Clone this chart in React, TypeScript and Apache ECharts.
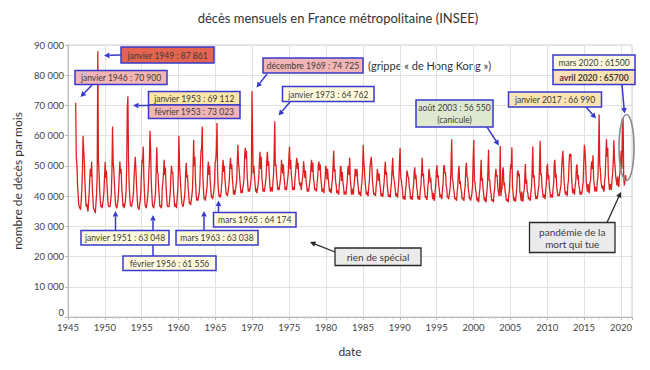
import React, { useEffect, useRef } from "react";
import * as echarts from "echarts";

// Monthly deaths in metropolitan France, in thousands (Jan..Dec), first year = 1946
const firstYear = 1946;
const deaths1940s: number[][] = [
  [70.9, 53.0, 50.5, 44.0, 40.5, 37.0, 36.5, 36.0, 35.5, 38.5, 42.0, 48.5],
  [60.0, 55.0, 52.0, 45.0, 40.0, 36.5, 37.5, 36.0, 34.9, 38.0, 41.0, 46.0],
  [49.0, 46.5, 51.4, 43.0, 39.5, 36.0, 35.5, 35.0, 34.4, 37.5, 40.5, 47.0],
  [87.9, 52.0, 48.0, 42.0, 39.0, 36.5, 37.0, 36.0, 36.0, 39.0, 41.5, 46.5],
];
const deaths1950s: number[][] = [
  [51.4, 46.0, 48.5, 43.5, 40.0, 37.0, 36.5, 36.5, 36.5, 38.5, 41.0, 48.0],
  [63.0, 51.0, 49.0, 44.5, 40.5, 37.0, 37.0, 36.0, 36.0, 39.0, 42.0, 47.5],
  [51.4, 47.5, 49.0, 42.5, 40.0, 36.5, 37.5, 36.0, 36.0, 38.5, 41.5, 49.0],
  [69.1, 73.0, 52.0, 44.0, 40.0, 37.0, 37.0, 36.5, 36.5, 39.0, 41.0, 46.0],
  [50.0, 53.0, 49.0, 44.0, 40.0, 36.5, 36.5, 35.5, 35.5, 38.5, 41.0, 47.0],
  [52.0, 51.0, 56.4, 46.0, 41.0, 37.0, 37.0, 36.0, 36.0, 39.5, 42.0, 47.5],
  [52.0, 61.6, 55.0, 45.0, 40.5, 37.0, 36.5, 36.0, 36.0, 39.0, 41.5, 48.0],
  [56.2, 48.0, 47.5, 43.0, 40.0, 36.5, 37.0, 36.0, 36.5, 43.0, 44.5, 48.0],
  [52.0, 47.0, 49.5, 44.0, 40.0, 37.0, 36.5, 36.5, 36.5, 39.0, 41.5, 47.0],
  [50.0, 47.7, 48.0, 43.0, 40.0, 36.5, 37.5, 37.0, 36.0, 39.0, 41.5, 46.5],
];
const deaths1960s: number[][] = [
  [60.0, 50.0, 47.0, 43.0, 40.0, 37.5, 37.0, 36.5, 36.5, 39.5, 42.0, 48.0],
  [51.0, 46.0, 47.0, 43.0, 40.5, 37.5, 38.0, 37.0, 37.0, 40.0, 42.0, 48.0],
  [58.6, 50.0, 53.0, 45.0, 41.0, 38.5, 39.4, 38.5, 38.5, 41.0, 43.5, 50.0],
  [55.0, 56.0, 63.0, 47.0, 42.0, 39.0, 39.5, 38.5, 38.5, 41.5, 43.5, 49.0],
  [51.4, 47.0, 50.0, 45.0, 42.0, 39.5, 40.0, 39.0, 39.0, 42.0, 44.5, 51.0],
  [52.0, 55.0, 64.2, 48.0, 43.0, 40.0, 40.5, 39.5, 40.0, 42.5, 44.5, 49.5],
  [52.0, 48.0, 50.0, 45.5, 43.0, 40.5, 41.0, 40.0, 40.0, 43.0, 45.0, 50.0],
  [52.7, 49.0, 50.5, 46.0, 43.5, 40.5, 42.0, 40.5, 40.5, 43.5, 45.0, 51.0],
  [57.0, 51.0, 49.0, 46.0, 43.5, 41.0, 42.0, 41.0, 41.0, 44.0, 46.0, 53.0],
  [56.0, 52.5, 55.0, 47.5, 44.0, 41.5, 42.5, 41.5, 41.5, 44.5, 47.0, 74.7],
];
const deaths1970s: number[][] = [
  [58.0, 47.5, 50.0, 46.5, 44.0, 41.5, 42.5, 41.0, 41.0, 44.0, 46.0, 51.0],
  [54.7, 49.0, 53.0, 46.5, 44.0, 41.5, 42.5, 41.5, 41.5, 44.5, 46.5, 51.5],
  [54.7, 50.0, 51.5, 47.0, 44.0, 41.5, 43.0, 42.0, 41.5, 44.5, 47.0, 53.0],
  [64.8, 50.0, 50.5, 46.5, 44.5, 42.0, 43.0, 42.0, 42.0, 45.0, 47.0, 52.0],
  [52.0, 47.5, 50.5, 46.5, 44.5, 42.0, 43.0, 42.0, 42.0, 45.5, 47.5, 52.5],
  [56.4, 49.0, 52.0, 47.0, 45.0, 42.0, 43.0, 42.5, 42.0, 46.0, 48.0, 51.0],
  [52.7, 49.0, 51.0, 47.0, 44.5, 43.5, 44.5, 42.0, 42.0, 45.5, 47.5, 51.5],
  [49.0, 46.0, 48.5, 45.0, 43.5, 41.5, 42.5, 41.5, 41.5, 44.5, 46.5, 50.0],
  [52.0, 48.0, 51.0, 46.0, 44.5, 42.0, 42.5, 42.0, 41.5, 44.5, 46.5, 50.5],
  [51.4, 48.5, 50.5, 46.0, 44.0, 41.5, 42.5, 41.5, 41.0, 44.0, 46.0, 50.0],
];
const deaths1980s: number[][] = [
  [49.0, 45.5, 49.0, 46.0, 44.0, 41.5, 42.5, 41.5, 41.0, 44.0, 46.0, 50.5],
  [55.0, 48.0, 49.0, 45.0, 43.5, 41.0, 42.0, 41.0, 40.5, 43.5, 45.5, 50.0],
  [49.5, 45.0, 48.0, 44.5, 43.0, 40.5, 41.5, 41.0, 40.5, 43.0, 45.0, 49.0],
  [50.0, 47.0, 52.7, 45.5, 43.5, 40.5, 42.5, 41.0, 40.5, 43.5, 45.5, 49.0],
  [49.0, 46.5, 49.0, 44.5, 43.0, 40.5, 41.5, 40.5, 40.0, 43.0, 45.0, 48.5],
  [57.0, 51.0, 49.0, 45.0, 43.0, 40.5, 41.5, 40.5, 40.0, 43.0, 45.0, 49.5],
  [49.5, 53.0, 50.0, 45.0, 43.0, 40.5, 41.0, 40.5, 40.0, 43.0, 45.0, 49.0],
  [49.0, 45.0, 47.5, 44.0, 42.5, 40.0, 41.0, 40.0, 39.8, 42.5, 44.5, 48.5],
  [51.4, 47.0, 48.0, 44.0, 42.0, 39.8, 40.5, 40.0, 39.5, 42.5, 44.5, 49.0],
  [52.7, 47.0, 47.0, 44.5, 42.5, 40.0, 41.0, 40.0, 39.5, 42.5, 45.0, 51.0],
];
const deaths1990s: number[][] = [
  [55.9, 46.0, 45.5, 43.5, 42.0, 39.0, 40.0, 39.5, 38.7, 42.0, 44.0, 48.5],
  [47.7, 46.5, 46.0, 43.0, 42.0, 39.0, 40.0, 39.5, 38.8, 42.0, 44.0, 48.0],
  [49.5, 45.5, 47.0, 43.0, 42.0, 39.0, 40.0, 39.0, 38.8, 42.0, 43.5, 48.0],
  [52.7, 46.5, 47.5, 43.5, 42.0, 39.5, 40.0, 39.0, 38.8, 42.5, 44.5, 49.0],
  [47.7, 44.5, 46.0, 42.5, 41.5, 39.0, 41.0, 39.0, 38.5, 41.5, 43.5, 48.0],
  [50.3, 46.0, 47.0, 43.5, 42.0, 39.5, 40.5, 40.0, 39.0, 42.0, 44.0, 49.5],
  [50.3, 47.5, 48.0, 43.5, 42.5, 39.5, 40.0, 39.0, 39.0, 42.0, 44.0, 50.0],
  [58.8, 46.0, 45.0, 42.5, 41.5, 39.0, 39.5, 39.0, 38.5, 41.5, 43.5, 48.0],
  [50.0, 44.0, 45.0, 42.5, 41.5, 39.0, 39.5, 39.0, 38.5, 41.5, 43.5, 49.0],
  [51.0, 46.5, 46.0, 42.5, 41.0, 39.0, 39.5, 38.5, 38.5, 41.0, 43.5, 52.5],
];
const deaths2000s: number[][] = [
  [58.6, 45.0, 44.5, 42.0, 41.0, 38.5, 39.5, 38.5, 38.0, 41.0, 42.5, 47.0],
  [52.0, 45.0, 46.0, 42.5, 41.0, 38.5, 39.5, 38.5, 38.0, 41.0, 43.0, 48.5],
  [55.3, 45.0, 45.5, 42.0, 41.0, 38.5, 39.0, 38.5, 38.0, 41.0, 42.5, 47.0],
  [49.0, 46.5, 47.0, 43.0, 41.5, 40.0, 42.5, 56.55, 40.0, 42.0, 42.5, 48.5],
  [49.5, 43.5, 44.5, 41.5, 40.5, 38.5, 39.0, 38.5, 38.0, 40.5, 42.0, 47.0],
  [50.5, 49.0, 56.2, 43.0, 41.0, 38.5, 39.5, 38.5, 38.2, 40.5, 42.5, 48.0],
  [48.5, 46.5, 47.5, 41.5, 40.5, 38.5, 41.5, 38.5, 38.2, 41.0, 42.0, 46.0],
  [50.6, 44.0, 45.5, 41.5, 41.0, 39.0, 39.5, 39.0, 38.5, 41.5, 43.0, 48.5],
  [56.4, 46.0, 47.0, 43.5, 41.0, 39.0, 40.0, 39.0, 39.0, 42.0, 43.5, 50.0],
  [58.3, 47.0, 47.5, 43.0, 41.5, 39.5, 40.5, 40.0, 39.0, 42.0, 44.0, 49.5],
];
const deaths2010s: number[][] = [
  [50.7, 45.5, 47.0, 43.0, 41.5, 39.5, 40.5, 40.0, 39.5, 42.5, 44.0, 51.0],
  [52.0, 46.0, 47.5, 43.0, 41.5, 40.0, 40.5, 40.0, 40.0, 42.5, 44.0, 49.0],
  [52.5, 55.0, 50.0, 45.0, 42.5, 40.5, 41.5, 41.0, 40.0, 43.5, 45.0, 50.5],
  [54.0, 53.0, 54.0, 47.0, 43.5, 41.0, 42.5, 41.0, 40.5, 43.5, 45.0, 49.5],
  [50.5, 45.5, 47.0, 43.5, 42.5, 40.5, 41.5, 40.5, 41.0, 43.0, 44.5, 51.0],
  [57.0, 55.0, 51.0, 45.0, 43.0, 41.5, 44.0, 41.5, 41.0, 44.5, 45.0, 49.5],
  [51.5, 49.0, 53.5, 46.0, 44.0, 41.5, 43.0, 43.0, 41.5, 45.0, 46.0, 54.0],
  [67.0, 50.5, 48.5, 45.0, 43.5, 42.5, 43.5, 42.0, 41.5, 45.0, 47.0, 53.5],
  [58.8, 53.0, 56.0, 47.0, 44.0, 42.0, 44.0, 43.5, 42.0, 45.5, 47.5, 51.5],
  [58.5, 52.0, 49.5, 46.5, 45.0, 43.5, 46.5, 44.0, 43.0, 46.5, 48.0, 52.0],
];
const deaths2020: number[] = [55.0, 49.0, 61.5, 65.7, 46.5, 43.5, 45.0, 47.0, 45.0];

const yTickValues = [0, 10000, 20000, 30000, 40000, 50000, 60000, 70000, 80000, 90000];
const xTickYears = [1945, 1950, 1955, 1960, 1965, 1970, 1975, 1980, 1985, 1990, 1995, 2000, 2005, 2010, 2015, 2020];

const titleText = "décès mensuels en France métropolitaine (INSEE)";
const yAxisTitle = "nombre de décès par mois";
const xAxisTitle = "date";

const FONT = "Lato, 'Noto Sans', sans-serif";
const BLUE = "#3838cc";
const DARK = "#2a2a2a";
const SQUEEZE = 0.9;

function arrow(x1: number, y1: number, x2: number, y2: number, color: string, lw = 1.5) {
  const dx = x2 - x1, dy = y2 - y1;
  const len = Math.hypot(dx, dy);
  const ux = dx / len, uy = dy / len;
  const hl = 5.5, hw = 2.8;
  const bx = x2 - ux * hl, by = y2 - uy * hl;
  return [
    { type: "line", z: 90, shape: { x1, y1, x2: bx, y2: by }, style: { stroke: color, lineWidth: lw } },
    {
      type: "polygon", z: 90,
      shape: { points: [[x2, y2], [bx - uy * hw, by + ux * hw], [bx + uy * hw, by - ux * hw]] },
      style: { fill: color },
    },
  ];
}

function label(x: number, y: number, text: string, bold = false, size = 9.5, squeeze = SQUEEZE) {
  return {
    type: "text", z: 101, x, y, scaleX: squeeze,
    style: {
      text, align: "center", verticalAlign: "middle", fill: "#3a3a3a",
      font: `${bold ? "bold " : ""}${size}px ${FONT}`, lineHeight: 12,
    },
  };
}

function box(x: number, y: number, w: number, h: number, fill: string, border: string, text: string,
  opts: { bold?: boolean; size?: number; lw?: number; squeeze?: number } = {}) {
  return [
    { type: "rect", z: 100, shape: { x, y, width: w, height: h }, style: { fill, stroke: border, lineWidth: opts.lw ?? 1.5 } },
    label(x + w / 2, y + h / 2, text, opts.bold, opts.size ?? 9.5, opts.squeeze ?? SQUEEZE),
  ];
}

function stackedBox(x: number, y: number, w: number, hTop: number, hBot: number,
  fillTop: string, fillBot: string, textTop: string, textBot: string, boldBot = false) {
  return [
    { type: "rect", z: 100, shape: { x, y, width: w, height: hTop }, style: { fill: fillTop, stroke: BLUE, lineWidth: 1.5 } },
    { type: "rect", z: 100, shape: { x, y: y + hTop, width: w, height: hBot }, style: { fill: fillBot, stroke: BLUE, lineWidth: 1.5 } },
    label(x + w / 2, y + hTop / 2, textTop),
    label(x + w / 2, y + hTop + hBot / 2, textBot, boldBot),
  ];
}

export default function App() {
  const ref = useRef<HTMLDivElement>(null);
  useEffect(() => {
    if (!ref.current) return;
    const chart = echarts.init(ref.current, undefined, { renderer: "svg" });

    const allYears = [...deaths1940s, ...deaths1950s, ...deaths1960s, ...deaths1970s,
      ...deaths1980s, ...deaths1990s, ...deaths2000s, ...deaths2010s, deaths2020];
    const seriesData: number[][] = [];
    allYears.forEach((months, i) => {
      months.forEach((v, m) => {
        seriesData.push([firstYear + i + (m + 0.5) / 12, v * 1000]);
      });
    });

    const graphics: any[] = [
      { type: "text", x: 338, y: 18, style: { text: titleText, align: "center", verticalAlign: "middle", fill: "#333", font: `13px ${FONT}` } },
      // janvier 1949
      ...box(121, 47, 93, 16, "#e5644f", BLUE, "janvier 1949 : 87 861"),
      ...arrow(121, 55, 104, 55.5, BLUE),
      // janvier 1946
      ...box(75, 70.5, 92, 14, "#f2b4b4", BLUE, "janvier 1946 : 70 900"),
      ...arrow(92, 85, 80.5, 97, BLUE),
      // 1953
      ...stackedBox(148.5, 91.5, 91.5, 13.5, 13.5, "#fbe6a8", "#f2b4b4", "janvier 1953 : 69 112", "février 1953 : 73 023"),
      ...arrow(148.5, 105.5, 133, 105.5, BLUE),
      // décembre 1969
      ...box(263, 58, 100, 15, "#f2b4b4", BLUE, "décembre 1969 : 74 725"),
      ...arrow(267, 74, 256.5, 87.5, BLUE),
      { type: "text", x: 368, y: 65.5, style: { text: "(grippe « de Hong Kong »)", align: "left", verticalAlign: "middle", fill: "#333", font: `11px ${FONT}` } },
      // janvier 1973
      ...box(282.5, 86.5, 91.5, 15, "#fffadd", BLUE, "janvier 1973 : 64 762"),
      ...arrow(290, 102, 278.5, 115.5, BLUE),
      // août 2003
      ...box(416, 100, 77, 27, "#dfe9d2", BLUE, "août 2003 : 56 550\n(canicule)"),
      ...arrow(487, 127, 499, 145.5, BLUE),
      // janvier 2017
      ...box(508.5, 92, 93, 15, "#fde2b4", BLUE, "janvier 2017 : 66 990"),
      ...arrow(586, 107, 596, 118.5, BLUE),
      // 2020
      ...stackedBox(553, 55, 82, 15, 14.5, "#fffadd", "#fde2b4", "mars 2020 : 61500", "avril 2020 : 65700", true),
      ...arrow(622, 84.5, 624.5, 113.5, BLUE),
      { type: "ellipse", z: 99, shape: { cx: 626.5, cy: 147.5, rx: 7.5, ry: 33 }, style: { fill: "none", stroke: "#8a8a8a", lineWidth: 1.6 } },
      // pandémie
      ...box(529.5, 222.5, 85.5, 30, "#ebebeb", DARK, "pandémie de la\nmort qui tue", { size: 10, lw: 1.3, squeeze: 1 }),
      ...arrow(607, 222.5, 621, 192, DARK, 1.3),
      // rien de spécial
      ...box(335, 248, 86, 17.5, "#ebebeb", DARK, "rien de spécial", { size: 10, lw: 1.3, squeeze: 1 }),
      ...arrow(335, 252, 310, 242, DARK, 1.3),
      // bottom annotations
      ...box(81, 230.5, 88, 14.5, "#fffadd", BLUE, "janvier 1951 : 63 048"),
      ...arrow(115.5, 230.5, 115.5, 211, BLUE),
      ...box(123, 256, 93, 14.5, "#fffadd", BLUE, "février 1956 : 61 556"),
      ...arrow(153, 256, 153, 215, BLUE),
      ...box(176, 230.5, 82, 14.5, "#fffadd", BLUE, "mars 1963 : 63 038"),
      ...arrow(204, 230.5, 204, 211, BLUE),
      ...box(213.5, 212.5, 82.5, 14.5, "#fffadd", BLUE, "mars 1965 : 64 174"),
      ...arrow(218.5, 212.5, 218.5, 200.5, BLUE),
    ];

    chart.setOption({
      animation: false,
      backgroundColor: "#ffffff",
      textStyle: { fontFamily: FONT },
      grid: { left: 68, right: 18, top: 45, bottom: 53, show: true, borderColor: "#cfcfcf", borderWidth: 1, containLabel: false },
      xAxis: {
        type: "value",
        min: xTickYears[0],
        max: 2021.5,
        interval: 5,
        name: xAxisTitle,
        nameLocation: "middle",
        nameGap: 28,
        nameTextStyle: { fontSize: 12, color: "#333", fontFamily: FONT },
        axisLine: { show: true, lineStyle: { color: "#b8b8b8" } },
        axisTick: { show: true, length: 3, lineStyle: { color: "#b8b8b8" } },
        minorTick: { show: true, splitNumber: 5, length: 2, lineStyle: { color: "#c8c8c8" } },
        axisLabel: {
          color: "#444", fontSize: 9.5, fontFamily: FONT, margin: 5,
          formatter: (v: number) => (xTickYears.includes(v) ? String(v) : ""),
        },
        splitLine: { show: true, lineStyle: { color: "#e2e2e2" } },
      },
      yAxis: {
        type: "value",
        min: yTickValues[0],
        max: yTickValues[yTickValues.length - 1],
        interval: 10000,
        name: yAxisTitle,
        nameLocation: "middle",
        nameGap: 45,
        nameRotate: 90,
        nameTextStyle: { fontSize: 12, color: "#333", fontFamily: FONT },
        axisLine: { show: true, lineStyle: { color: "#b8b8b8" } },
        axisTick: { show: true, length: 3, lineStyle: { color: "#b8b8b8" } },
        axisLabel: {
          color: "#444", fontSize: 9.5, fontFamily: FONT, margin: 4,
          formatter: (v: number) => (v === 0 ? "{z|0}" : `${Math.round(v / 1000)} 000`),
          rich: { z: { fontSize: 9.5, color: "#444", fontFamily: FONT, padding: [0, 0, 10, 0] } },
        },
        splitLine: { show: true, lineStyle: { color: "#e2e2e2" } },
      },
      series: [
        {
          type: "line",
          data: seriesData,
          showSymbol: false,
          symbol: "none",
          lineStyle: { color: "#dd1f1f", width: 1.3 },
          z: 5,
        },
      ],
      graphic: { elements: graphics },
    });

    return () => chart.dispose();
  }, []);

  return <div ref={ref} style={{ position: "fixed", left: 0, top: 0, width: 650, height: 370 }} />;
}
